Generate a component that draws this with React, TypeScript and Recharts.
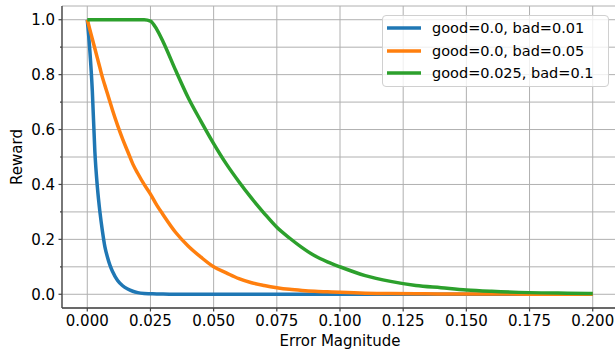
import React from "react"
import { LineChart, Line, XAxis, YAxis, CartesianGrid, Legend } from "recharts"

const errorMagnitude = [
  0, 0.001, 0.002, 0.003, 0.004, 0.005, 0.006, 0.007, 0.008, 0.009, 0.01, 0.012, 0.014, 0.016, 0.018, 0.02, 0.0225,
  0.025, 0.0275, 0.03, 0.035, 0.04, 0.045, 0.05, 0.055, 0.06, 0.065, 0.07, 0.075, 0.08, 0.085, 0.09, 0.095, 0.1,
  0.11, 0.12, 0.13, 0.14, 0.15, 0.16, 0.175, 0.19, 0.2,
]

const rewardBad001 = [
  1.0, 0.89, 0.74, 0.52, 0.39, 0.3, 0.23, 0.172, 0.135, 0.105, 0.083, 0.05, 0.031, 0.019, 0.011, 0.006, 0.003,
  0.002, 0.001, 0.001, 0, 0, 0, 0, 0, 0, 0, 0, 0, 0, 0, 0, 0, 0,
  0, 0, 0, 0, 0, 0, 0, 0, 0,
]

const rewardBad005 = [
  1.0, 0.965, 0.93, 0.895, 0.86, 0.825, 0.79, 0.76, 0.73, 0.7, 0.67, 0.615, 0.565, 0.52, 0.475, 0.44, 0.4,
  0.365, 0.325, 0.29, 0.225, 0.175, 0.135, 0.1, 0.078, 0.057, 0.042, 0.032, 0.024, 0.018, 0.014, 0.011, 0.009, 0.007,
  0.004, 0.003, 0.002, 0.001, 0.001, 0.001, 0, 0, 0,
]

const rewardGood0025 = [
  1, 1, 1, 1, 1, 1, 1, 1, 1, 1, 1, 1, 1, 1, 1, 1, 1,
  0.995, 0.965, 0.92, 0.815, 0.715, 0.63, 0.549, 0.475, 0.41, 0.35, 0.295, 0.244, 0.205, 0.17, 0.14, 0.118, 0.1,
  0.068, 0.047, 0.032, 0.024, 0.016, 0.011, 0.006, 0.004, 0.003,
]

const xTicks = [0, 0.025, 0.05, 0.075, 0.1, 0.125, 0.15, 0.175, 0.2]
const yTicks = [0, 0.1, 0.2, 0.3, 0.4, 0.5, 0.6, 0.7, 0.8, 0.9, 1.0]

const series = [
  { key: "a", name: "good=0.0, bad=0.01", color: "#1f77b4" },
  { key: "b", name: "good=0.0, bad=0.05", color: "#ff7f0e" },
  { key: "c", name: "good=0.025, bad=0.1", color: "#2ca02c" },
]

const data = errorMagnitude.map((x, i) => ({
  x,
  a: rewardBad001[i],
  b: rewardBad005[i],
  c: rewardGood0025[i],
}))

const FONT = 15
const LEGEND_FONT = 14.5
const AXIS = "#444"

function XTick({ x, y, payload }: any) {
  return (
    <g>
      <line x1={x} x2={x} y1={y} y2={y + 3.5} stroke={AXIS} strokeWidth={1.2} />
      <text x={x} y={y + 7} dy="0.76em" textAnchor="middle" fontSize={FONT} fill="#000">
        {payload.value.toFixed(3)}
      </text>
    </g>
  )
}

function YTick({ x, y, payload }: any) {
  const major = Math.round(payload.value * 10) % 2 === 0
  return (
    <g>
      <line x1={x - (major ? 3.5 : 2)} x2={x} y1={y} y2={y} stroke={AXIS} strokeWidth={1.2} />
      {major && (
        <text x={x - 7} y={y} dy="0.36em" textAnchor="end" fontSize={FONT} fill="#000">
          {payload.value.toFixed(1)}
        </text>
      )}
    </g>
  )
}

function LegendBox() {
  return (
    <div
      style={{
        boxSizing: "border-box",
        width: 227,
        height: 72,
        border: "1px solid #d0d0d0",
        borderRadius: 4,
        background: "rgba(255,255,255,0.8)",
        padding: "0 0 0 4px",
      }}
    >
      {series.map((s, i) => (
        <div key={s.key} style={{ height: 22.8, display: "flex", alignItems: "center", marginTop: i === 0 ? 0.5 : 0 }}>
          <svg width={34} height={6} style={{ marginRight: 11 }}>
            <line x1={0} x2={34} y1={3} y2={3} stroke={s.color} strokeWidth={3.5} />
          </svg>
          <span style={{ fontSize: LEGEND_FONT, color: "#000", whiteSpace: "nowrap" }}>{s.name}</span>
        </div>
      ))}
    </div>
  )
}

export default function App() {
  return (
    <div
      style={{
        position: "absolute",
        left: 0,
        top: 0,
        width: 615,
        height: 354,
        overflow: "hidden",
        background: "#fff",
        fontFamily: "'DejaVu Sans', sans-serif",
      }}
    >
      <LineChart width={621} height={354} data={data} margin={{ top: 6, right: 3, bottom: 0, left: 0 }}>
        <CartesianGrid stroke="#b0b0b0" strokeWidth={1} />
        <XAxis
          dataKey="x"
          type="number"
          domain={[-0.01, 0.21]}
          ticks={xTicks}
          height={46}
          axisLine={{ stroke: AXIS, strokeWidth: 1.3 }}
          tickLine={false}
          tickSize={0}
          tickMargin={0}
          tick={<XTick />}
          interval={0}
          label={(props: any) => {
            const vb = props.viewBox
            return (
              <text x={vb.x + vb.width / 2} y={vb.y + vb.height - 8} textAnchor="middle" fontSize={FONT} fill="#000">
                Error Magnitude
              </text>
            )
          }}
        />
        <YAxis
          type="number"
          domain={[-0.05, 1.05]}
          ticks={yTicks}
          width={62}
          axisLine={{ stroke: AXIS, strokeWidth: 1.3 }}
          tickLine={false}
          tickSize={0}
          tickMargin={0}
          tick={<YTick />}
          interval={0}
          label={(props: any) => {
            const vb = props.viewBox
            const cx = 22
            const cy = vb.y + vb.height / 2
            return (
              <text x={cx} y={cy} transform={`rotate(-90 ${cx} ${cy})`} textAnchor="middle" fontSize={FONT} fill="#000">
                Reward
              </text>
            )
          }}
        />
        <Legend
          layout="horizontal"
          verticalAlign="middle"
          align="center"
          wrapperStyle={{ top: 15, left: 382, width: 227, height: 72 }}
          content={() => <LegendBox />}
        />
        {series.map((s) => (
          <Line
            key={s.key}
            dataKey={s.key}
            name={s.name}
            type="monotone"
            stroke={s.color}
            strokeWidth={3.5}
            dot={false}
            isAnimationActive={false}
          />
        ))}
      </LineChart>
    </div>
  )
}
